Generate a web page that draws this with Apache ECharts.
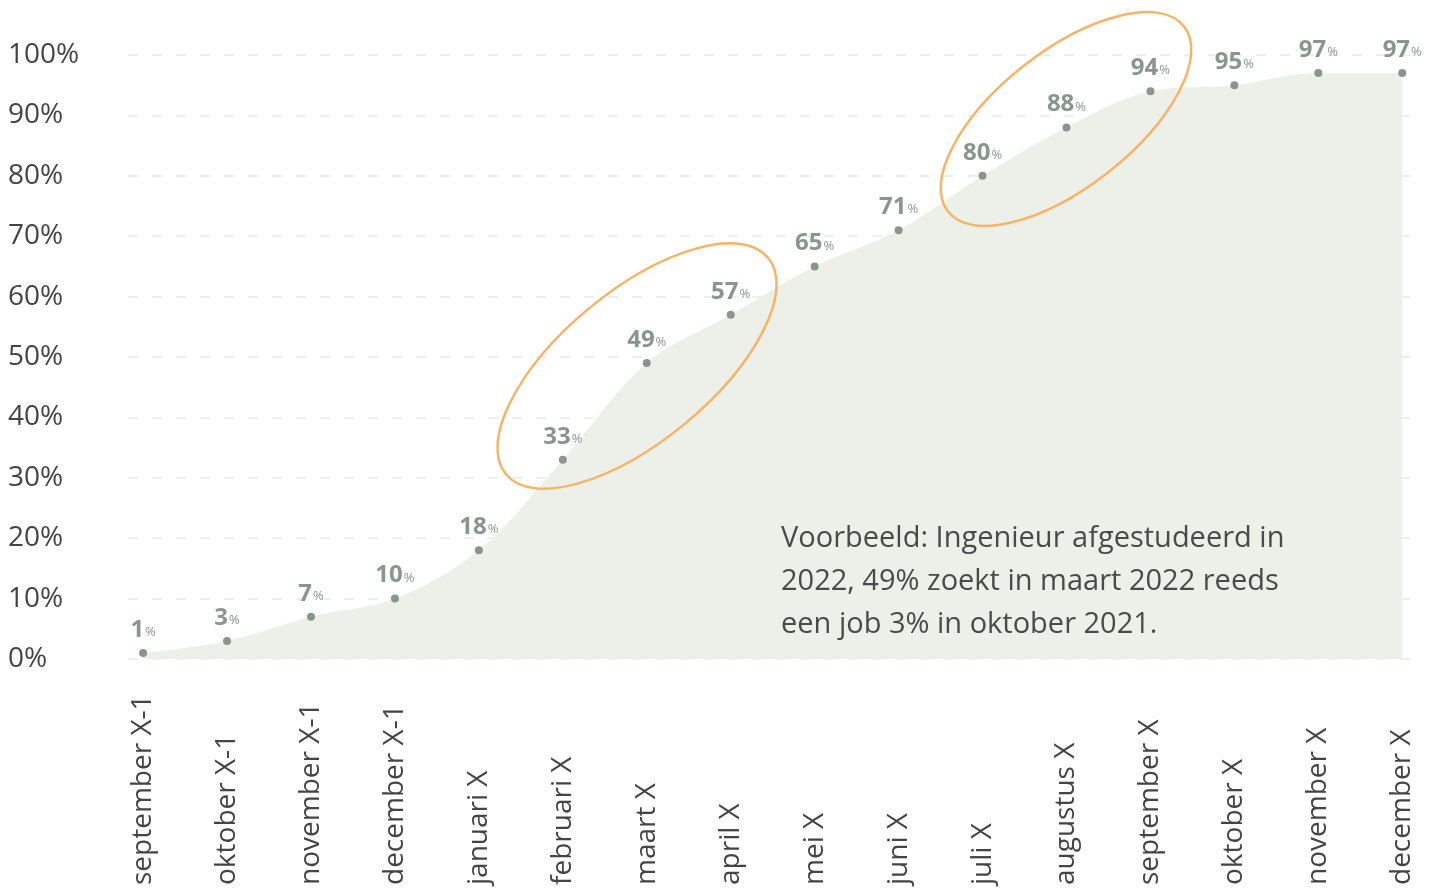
<!DOCTYPE html>
<html>
<head>
<meta charset="utf-8">
<script src="https://cdn.jsdelivr.net/npm/echarts@6/dist/echarts.min.js"></script>
<style>
html,body{margin:0;padding:0;background:#fff;}
#chart{width:1440px;height:893px;}
</style>
</head>
<body>
<div id="chart"></div>
<script>
const categories = ['september X-1','oktober X-1','november X-1','december X-1','januari X','februari X','maart X','april X','mei X','juni X','juli X','augustus X','september X','oktober X','november X','december X'];
const values = [1,3,7,10,18,33,49,57,65,71,80,88,94,95,97,97];
const yTicks = [0,10,20,30,40,50,60,70,80,90,100];
const noteText = 'Voorbeeld: Ingenieur afgestudeerd in\n2022, 49% zoekt in maart 2022 reeds\neen job 3% in oktober 2021.';

const FONT = '"Open Sans", sans-serif';
const catIdx = categories.map((c, i) => i);
const seriesData = values.map((v, i) => [i, v]);

const chart = echarts.init(document.getElementById('chart'));
chart.setOption({
  animation: false,
  grid: {left: 128, right: 26, top: 55, bottom: 234},
  xAxis: {
    type: 'value',
    min: -0.18,
    max: 15.14,
    splitLine: {show: false},
    axisLine: {show: false},
    axisTick: {show: false},
    axisLabel: {
      customValues: catIdx,
      rotate: 90,
      align: 'left',
      verticalAlign: 'middle',
      margin: 226,
      fontSize: 28,
      color: '#444',
      fontFamily: FONT,
      formatter: v => categories[Math.round(v)] || ''
    }
  },
  yAxis: {
    type: 'value',
    min: 0, max: 100, interval: 10,
    axisLine: {show: false},
    axisTick: {show: false},
    axisLabel: {
      align: 'left',
      margin: 120,
      fontSize: 28,
      color: '#444',
      fontFamily: FONT,
      formatter: v => yTicks.includes(v) ? v + '%' : ''
    },
    splitLine: {lineStyle: {color: '#e6ece3', width: 1.5, type: [10, 14]}}
  },
  series: [{
    type: 'line',
    data: seriesData,
    smooth: 0.35,
    symbol: 'circle',
    symbolSize: 8,
    itemStyle: {color: '#89958f'},
    lineStyle: {width: 0},
    areaStyle: {color: '#ecf0e9', opacity: 1},
    label: {
      show: true,
      position: 'top',
      distance: 7,
      formatter: p => '{v|' + p.value[1] + '}{p|%}',
      rich: {
        v: {fontSize: 24, fontWeight: 'bold', color: '#89958f', fontFamily: FONT},
        p: {fontSize: 13, color: '#89958f', fontFamily: FONT, padding: [5,0,0,1]}
      }
    }
  }],
  graphic: [
    {type: 'ellipse', x: 637, y: 366, rotation: 0.69, shape: {cx: 0, cy: 0, rx: 170, ry: 75},
     style: {fill: 'none', stroke: '#f8b466', lineWidth: 2.5}, z: 10},
    {type: 'ellipse', x: 1066, y: 119, rotation: 0.665, shape: {cx: 0, cy: 0, rx: 150, ry: 68},
     style: {fill: 'none', stroke: '#f8b466', lineWidth: 2.5}, z: 10},
    {type: 'text', left: 781, top: 517,
     style: {text: noteText, fontSize: 29, lineHeight: 43, fill: '#4a4a4a', fontFamily: FONT}, z: 10}
  ]
});
</script>
</body>
</html>
